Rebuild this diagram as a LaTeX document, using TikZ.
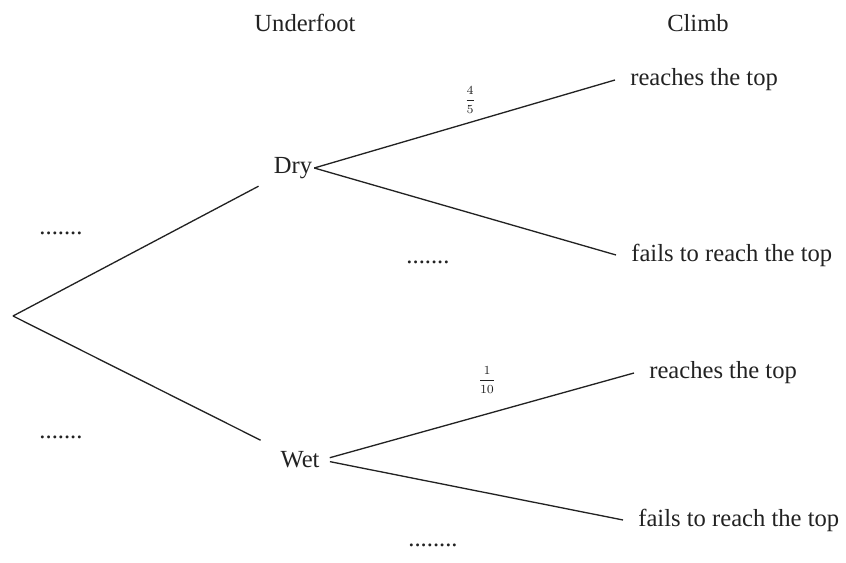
\documentclass[tikz,border=0pt]{standalone}
\usepackage{amsmath}
\usepackage{fontspec}
\setmainfont{Liberation Serif}
\usetikzlibrary{positioning}
\definecolor{tink}{HTML}{222222}
\tikzset{
  stagelabel/.style={font=\fontsize{14}{16}\selectfont, text=tink, inner sep=0pt},
  eventnode/.style={font=\fontsize{14}{16}\selectfont, text=tink, inner sep=1pt},
  outcomenode/.style={font=\fontsize{14}{16}\selectfont, text=tink,
                      inner xsep=0.3cm, inner ysep=1pt, anchor=west},
  blanknode/.style={font=\fontsize{14}{16}\selectfont, text=tink, inner sep=0pt},
  probnode/.style={font=\fontsize{7.5}{9}\selectfont, text=tink, inner sep=0pt},
  branch/.style={draw=tink, line width=0.75pt},
}

\begin{document}
\begin{tikzpicture}[x=0.02cm, y=-0.02cm]
  \useasboundingbox (0,0) rectangle (846,563);

  %% ── Column headings ──
  \node[stagelabel] (hunder) at (305, 23) {Underfoot};
  \node[stagelabel] (hclimb) at (698, 23) {Climb};

  %% ═══════════ FIRST STAGE ═══════════
  \coordinate (root) at (13, 316);
  \node[eventnode] (dry) at (293, 168) {Dry};
  \node[eventnode] (wet) at (300, 460) {Wet};

  \draw[branch, shorten >=0.3cm]  (root) -- (dry);
  \draw[branch, shorten >=0.42cm] (root) -- (wet);

  %% blanks to fill in
  \node[blanknode] (blankdry) at (61, 233) {.......};
  \node[blanknode] (blankwet) at (61, 437) {.......};

  %% ═══════════ SECOND STAGE: Dry ═══════════
  \node[outcomenode] (drytop)  at (615, 80)  {reaches the top};
  \node[outcomenode] (dryfail) at (616, 255) {fails to reach the top};

  \draw[branch] (dry.east) -- (drytop.west);
  \draw[branch] (dry.east) -- (dryfail.west);

  \node[probnode] (pdrytop) at (470, 100) {$\dfrac{4}{5}$};
  \node[blanknode] (blankdryfail) at (428, 262) {.......};

  %% ═══════════ SECOND STAGE: Wet ═══════════
  \node[outcomenode] (wettop)  at (634, 373) {reaches the top};
  \node[outcomenode] (wetfail) at (623, 520) {fails to reach the top};

  \draw[branch, shorten <=0.17cm] (wet.east) -- (wettop.west);
  \draw[branch, shorten <=0.17cm] (wet.east) -- (wetfail.west);

  \node[probnode] (pwettop) at (487, 380) {$\dfrac{1}{10}$};
  \node[blanknode] (blankwetfail) at (433, 545) {........};

\end{tikzpicture}
\end{document}
